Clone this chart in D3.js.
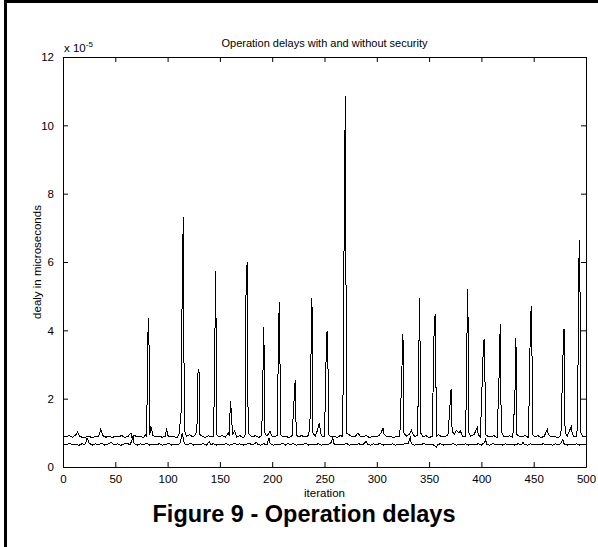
<!DOCTYPE html>
<html>
<head>
<meta charset="utf-8">
<script src="https://cdn.jsdelivr.net/npm/d3@7"></script>
<style>
  body { margin: 0; background: #fff; }
  text { font-family: "Liberation Sans", Arial, sans-serif; fill: #000; }
</style>
</head>
<body>
<script>
// delays in units of 1e-5, as [iteration, value]
const withSecurity = [
  [0,0.90],[3,0.88],[6,0.92],[9,0.87],[12,0.93],[14,1.02],[16,0.90],[19,0.86],[22,0.88],[25,0.90],
  [28,0.85],[31,0.90],[34,0.89],[36,1.10],[38,0.92],[41,0.87],[44,0.91],[47,0.86],[50,0.90],[53,0.88],
  [56,0.92],[59,0.87],[62,0.89],[65,1.00],[66,0.86],[68,0.93],[71,0.88],[74,0.90],[77,0.86],[79,0.95],
  [80,0.90],[81,3.78],[82,4.36],[83,0.95],[84,1.20],[86,0.92],[89,0.88],[92,0.90],[95,0.87],[98,0.90],
  [99,1.15],[100,0.92],[103,0.88],[106,0.90],[109,0.85],[111,0.98],[113,1.62],[114,5.45],[115,7.32],[116,1.10],
  [118,0.90],[121,0.95],[124,0.88],[126,0.92],[128,1.05],[129,2.75],[130,2.85],[131,0.95],[133,0.90],[136,0.86],
  [139,0.92],[142,0.88],[144,0.90],[145,3.20],[146,5.73],[147,0.95],[149,0.88],[152,0.92],[155,0.87],[157,0.95],
  [158,1.00],[159,0.90],[160,1.94],[161,1.62],[162,0.95],[164,1.05],[166,0.88],[169,0.92],[172,0.86],[174,0.90],
  [175,5.18],[176,5.99],[177,1.10],[178,0.95],[181,0.88],[184,0.92],[187,0.86],[190,0.92],[191,2.50],[192,4.09],
  [193,1.00],[195,0.90],[198,1.05],[200,0.88],[203,0.90],[205,0.92],[206,4.13],[207,4.84],[208,0.95],[210,0.88],
  [213,0.90],[216,0.86],[219,0.92],[221,2.00],[222,2.55],[223,0.95],[225,0.88],[228,0.92],[231,0.88],[234,0.90],
  [236,1.10],[237,3.10],[238,4.94],[239,1.00],[241,0.90],[243,1.05],[245,1.29],[246,1.10],[247,0.92],[250,0.88],
  [252,3.92],[253,3.99],[254,0.95],[256,0.88],[259,0.90],[262,0.86],[265,0.92],[267,0.90],[268,2.60],[269,8.22],
  [270,10.85],[271,1.00],[273,0.95],[276,0.90],[279,0.88],[282,1.00],[284,0.90],[287,0.88],[290,0.92],[293,0.86],
  [296,0.90],[299,0.88],[302,0.92],[304,1.00],[306,1.14],[307,0.95],[310,0.88],[313,0.90],[316,0.86],[319,0.90],
  [322,0.88],[324,2.85],[325,3.88],[326,1.00],[328,0.90],[331,0.95],[333,1.08],[334,1.00],[336,0.90],[339,0.92],
  [340,3.00],[341,4.94],[342,1.00],[344,0.88],[347,0.92],[350,0.86],[353,0.90],[355,4.36],[356,4.47],[357,0.90],
  [359,0.95],[362,0.88],[365,0.90],[368,0.92],[370,1.81],[371,2.27],[372,1.05],[374,0.95],[376,1.08],[378,1.00],
  [380,1.05],[382,0.90],[385,0.88],[386,3.50],[387,5.21],[388,1.00],[390,0.90],[393,0.95],[396,1.15],[397,0.95],
  [399,0.88],[402,3.65],[403,3.75],[404,0.95],[406,0.90],[409,0.88],[412,0.92],[415,0.86],[417,2.75],[418,4.19],
  [419,1.05],[421,0.90],[424,0.88],[427,0.92],[430,0.86],[432,2.00],[433,3.78],[434,0.95],[436,0.90],[439,0.88],
  [442,0.92],[445,0.86],[447,4.45],[448,4.70],[449,0.95],[451,0.88],[454,0.92],[457,0.86],[460,0.90],[463,1.10],
  [464,0.95],[467,0.88],[470,0.90],[473,0.86],[476,0.92],[478,3.25],[479,4.05],[480,1.00],[482,0.90],[484,1.05],
  [486,1.18],[487,0.95],[489,0.88],[491,0.90],[492,1.30],[493,5.85],[494,6.65],[495,1.00],[497,0.90],[500,0.88]
];

const withoutSecurity = [
  [0,0.68],[3,0.64],[6,0.70],[9,0.65],[12,0.67],[15,0.63],[18,0.68],[21,0.66],[22,0.72],[23,0.85],
  [25,0.70],[28,0.64],[31,0.68],[34,0.65],[37,0.70],[40,0.64],[43,0.67],[46,0.72],[49,0.65],[52,0.68],
  [55,0.63],[58,0.67],[61,0.70],[64,0.65],[66,0.78],[67,0.90],[68,0.68],[71,0.64],[74,0.68],[77,0.65],
  [80,0.70],[83,0.64],[86,0.67],[89,0.65],[92,0.68],[95,0.64],[98,0.66],[101,0.69],[104,0.64],[107,0.67],
  [110,0.65],[112,0.70],[114,1.00],[115,0.85],[116,0.68],[119,0.65],[122,0.69],[125,0.64],[128,0.67],[131,0.65],
  [134,0.68],[137,0.64],[140,0.74],[141,0.66],[144,0.68],[147,0.64],[150,0.67],[153,0.65],[156,0.69],[159,0.64],
  [162,0.67],[165,0.70],[166,0.65],[169,0.68],[172,0.64],[175,0.66],[178,0.69],[181,0.65],[185,0.72],[186,0.66],
  [189,0.64],[192,0.68],[195,0.65],[197,0.85],[198,0.68],[201,0.64],[204,0.67],[207,0.65],[210,0.69],[213,0.64],
  [215,0.70],[217,0.65],[220,0.68],[223,0.64],[226,0.67],[229,0.65],[232,0.69],[235,0.64],[238,0.67],[241,0.65],
  [244,0.68],[247,0.64],[250,0.67],[253,0.65],[256,0.70],[258,0.85],[259,0.68],[262,0.64],[265,0.67],[268,0.65],
  [271,0.69],[274,0.64],[277,0.67],[280,0.65],[283,0.68],[286,0.64],[290,0.75],[291,0.66],[294,0.64],[297,0.68],
  [300,0.65],[303,0.69],[306,0.64],[309,0.67],[312,0.65],[315,0.68],[318,0.64],[321,0.67],[324,0.65],[327,0.68],
  [330,0.70],[332,0.85],[333,0.68],[336,0.64],[339,0.67],[342,0.65],[345,0.69],[348,0.64],[351,0.67],[354,0.65],
  [357,0.58],[358,0.66],[361,0.68],[364,0.64],[367,0.67],[370,0.65],[373,0.69],[376,0.64],[379,0.67],[382,0.65],
  [385,0.68],[388,0.64],[391,0.67],[394,0.65],[397,0.68],[400,0.64],[403,0.72],[404,0.80],[405,0.67],[408,0.64],
  [411,0.68],[414,0.65],[417,0.67],[420,0.64],[423,0.68],[426,0.65],[429,0.67],[432,0.64],[435,0.68],[438,0.65],
  [440,0.72],[441,0.66],[444,0.64],[447,0.68],[450,0.65],[453,0.67],[456,0.64],[459,0.68],[462,0.65],[465,0.67],
  [468,0.64],[471,0.68],[474,0.65],[476,0.70],[478,0.80],[479,0.68],[482,0.64],[485,0.67],[488,0.65],[491,0.68],
  [494,0.64],[497,0.67],[500,0.66]
];

const xTicks = [0, 50, 100, 150, 200, 250, 300, 350, 400, 450, 500];
const yTicks = [0, 2, 4, 6, 8, 10, 12];

const chartTitle = "Operation delays with and without security";
const xLabel = "iteration";
const yLabel = "dealy in microseconds";
const caption = "Figure 9 - Operation delays";

const width = 598, height = 547;
const plot = { left: 63, right: 586, top: 57, bottom: 467 };

const svg = d3.select("body").append("svg")
    .attr("width", width)
    .attr("height", height);

// page frame, only top and left edges fall inside the picture
svg.append("rect")
    .attr("x", 5.5).attr("y", 1.5)
    .attr("width", 800).attr("height", 800)
    .attr("fill", "none")
    .attr("stroke", "#000")
    .attr("stroke-width", 3);

const x = d3.scaleLinear().domain([0, 500]).range([plot.left, plot.right]);
const y = d3.scaleLinear().domain([0, 12]).range([plot.bottom, plot.top]);

const line = d3.line()
    .x(d => x(d[0]))
    .y(d => y(d[1]));

for (let series of [withoutSecurity, withSecurity]) {
    svg.append("path")
        .datum(series)
        .attr("fill", "none")
        .attr("stroke", "#000")
        .attr("stroke-width", 1)
        .attr("shape-rendering", "crispEdges")
        .attr("d", line);
}

// MATLAB style box with ticks pointing inward on all four sides
const tickLen = 5;
const axisFont = "11.5px";

let bottomAxis = d3.axisBottom(x).tickValues(xTicks).tickSizeInner(-tickLen).tickSizeOuter(0).tickPadding(8);
let topAxis = d3.axisTop(x).tickValues(xTicks).tickSizeInner(-tickLen).tickSizeOuter(0).tickFormat("");
let leftAxis = d3.axisLeft(y).tickValues(yTicks).tickSizeInner(-tickLen).tickSizeOuter(0).tickPadding(9);
let rightAxis = d3.axisRight(y).tickValues(yTicks).tickSizeInner(-tickLen).tickSizeOuter(0).tickFormat("");

function styleAxis(g) {
    g.selectAll("path, line").attr("stroke", "#000");
    g.selectAll("text").style("font-size", axisFont).attr("fill", "#000");
    g.attr("font-family", null);
}

svg.append("g").attr("transform", `translate(0,${plot.bottom})`).call(bottomAxis).call(styleAxis);
svg.append("g").attr("transform", `translate(0,${plot.top})`).call(topAxis).call(styleAxis);
svg.append("g").attr("transform", `translate(${plot.left},0)`).call(leftAxis).call(styleAxis);
svg.append("g").attr("transform", `translate(${plot.right},0)`).call(rightAxis).call(styleAxis);

// exponent label
let expo = svg.append("text")
    .attr("x", plot.left + 1)
    .attr("y", plot.top - 5)
    .style("font-size", axisFont);
expo.append("tspan").text("x 10");
expo.append("tspan").attr("dy", -5).style("font-size", "8px").text("-5");

svg.append("text")
    .attr("x", (plot.left + plot.right) / 2)
    .attr("y", plot.top - 10)
    .attr("text-anchor", "middle")
    .style("font-size", "11px")
    .text(chartTitle);

svg.append("text")
    .attr("x", (plot.left + plot.right) / 2)
    .attr("y", 497)
    .attr("text-anchor", "middle")
    .style("font-size", axisFont)
    .text(xLabel);

svg.append("text")
    .attr("transform", `translate(41,${(plot.top + plot.bottom) / 2}) rotate(-90)`)
    .attr("text-anchor", "middle")
    .style("font-size", axisFont)
    .text(yLabel);

svg.append("text")
    .attr("x", 304)
    .attr("y", 522)
    .attr("text-anchor", "middle")
    .style("font-size", "23.5px")
    .style("font-weight", "bold")
    .text(caption);
</script>
</body>
</html>
